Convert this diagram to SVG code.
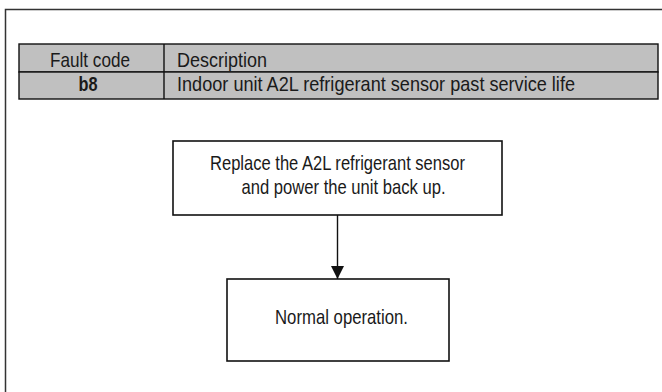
<svg xmlns="http://www.w3.org/2000/svg" width="662" height="392" viewBox="0 0 662 392">
<style>
text{font-family:"Liberation Sans Narrow","Liberation Sans",Arial,sans-serif;fill:#1a1a1a;font-size:21px}
.b{font-weight:bold}
.box{fill:#fff;stroke:#111;stroke-width:1.6}
.cell{fill:#c0c0c0;stroke:#111;stroke-width:1.4}
.conn{stroke:#111;stroke-width:1.4;fill:none}
</style>
<defs>
<marker id="ah" markerWidth="13" markerHeight="13" refX="13" refY="6.5" orient="auto" markerUnits="userSpaceOnUse" viewBox="0 0 13 13">
<path d="M0,0 L13,6.5 L0,13 Z" fill="#111"/>
</marker>
</defs>
<rect width="662" height="392" fill="#fff"/>
<rect x="5.5" y="9.5" width="700" height="420" fill="none" stroke="#333" stroke-width="1.5"/>
<g id="table">
<rect class="cell" x="19" y="44" width="639" height="28"/>
<rect class="cell" x="19" y="72" width="639" height="27"/>
<line x1="164" y1="44" x2="164" y2="99" stroke="#111" stroke-width="1.4"/>
<text x="90" y="66.5" text-anchor="middle" textLength="80" lengthAdjust="spacingAndGlyphs">Fault code</text>
<text x="177" y="66.5" textLength="90" lengthAdjust="spacingAndGlyphs">Description</text>
<text class="b" x="88" y="90.5" text-anchor="middle" textLength="19" lengthAdjust="spacingAndGlyphs">b8</text>
<text x="177" y="90.5" textLength="398" lengthAdjust="spacingAndGlyphs">Indoor unit A2L refrigerant sensor past service life</text>
</g>
<g id="connectors">
<line class="conn" x1="337.5" y1="215" x2="337.5" y2="279" marker-end="url(#ah)"/>
</g>
<g id="node-replace">
<rect class="box" x="173" y="141" width="329" height="74"/>
<text x="210" y="170" textLength="255" lengthAdjust="spacingAndGlyphs">Replace the A2L refrigerant sensor</text>
<text x="241.5" y="193.5" textLength="204" lengthAdjust="spacingAndGlyphs">and power the unit back up.</text>
</g>
<g id="node-normal">
<rect class="box" x="227" y="279" width="222" height="82"/>
<text x="275" y="324" textLength="133" lengthAdjust="spacingAndGlyphs">Normal operation.</text>
</g>
</svg>
